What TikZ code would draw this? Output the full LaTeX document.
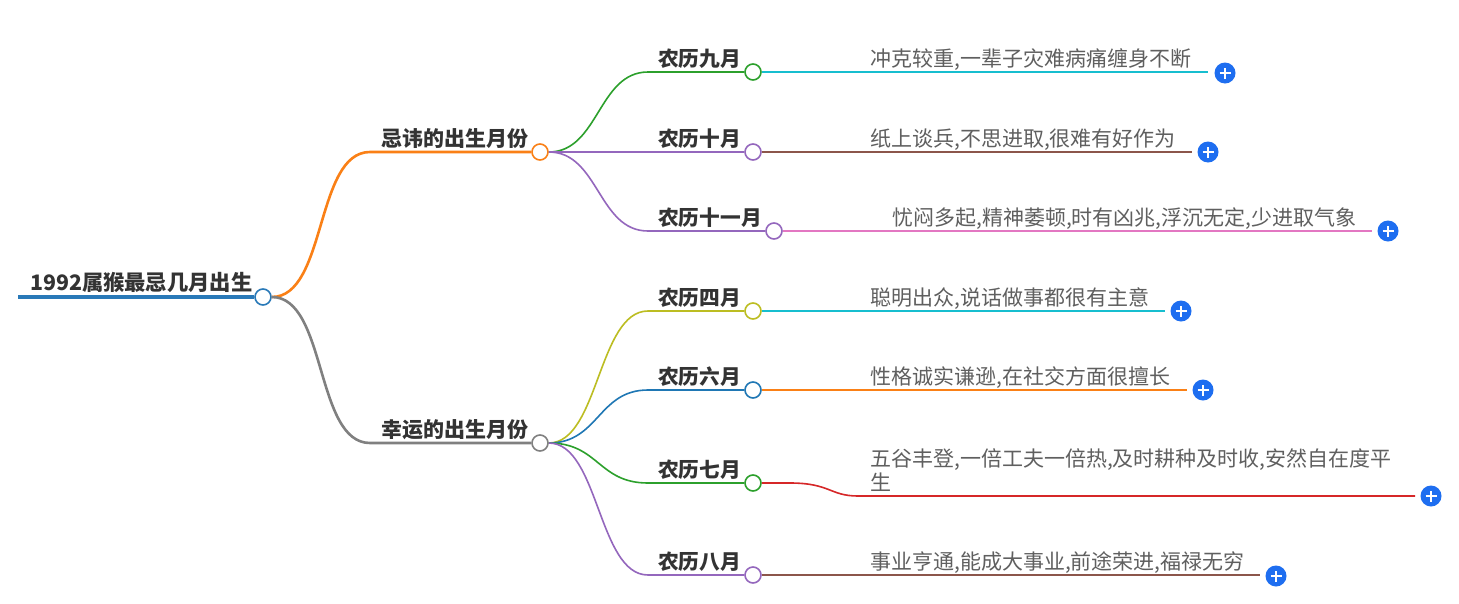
\documentclass[tikz,border=0pt]{standalone}
\usepackage{fontspec}
\setmainfont{Noto Sans CJK SC}
\definecolor{rootblue}{RGB}{41,121,184}
\definecolor{corange}{RGB}{250,128,22}
\definecolor{cgray}{RGB}{128,128,128}
\definecolor{cgreen}{RGB}{44,160,44}
\definecolor{cpurple}{RGB}{148,103,189}
\definecolor{cteal}{RGB}{23,190,207}
\definecolor{cbrown}{RGB}{140,86,75}
\definecolor{cpink}{RGB}{227,119,194}
\definecolor{colive}{RGB}{188,189,34}
\definecolor{cblue}{RGB}{31,119,180}
\definecolor{cred}{RGB}{214,39,40}
\definecolor{plusblue}{RGB}{30,110,240}
\definecolor{tdark}{RGB}{51,51,51}
\definecolor{tlight}{RGB}{95,95,95}
\begin{document}
\begin{tikzpicture}[x=1pt,y=-1pt,
  dot/.style={circle,draw=#1,fill=white,line width=1.6pt,minimum size=16pt,inner sep=0pt},
  plusdot/.style={circle,fill=plusblue,minimum size=21pt,inner sep=0pt,
    path picture={\draw[white,line width=1.8pt]
      ([xshift=-5.5pt]path picture bounding box.center) -- ([xshift=5.5pt]path picture bounding box.center)
      ([yshift=-5.5pt]path picture bounding box.center) -- ([yshift=5.5pt]path picture bounding box.center);}},
  rootlbl/.style={anchor=base west,inner sep=0pt,text=tdark,font=\bfseries\fontsize{21.3}{21}\selectfont},
  lbl/.style={anchor=base west,inner sep=0pt,text=tdark,font=\bfseries\fontsize{20.7}{20}\selectfont},
  lbla/.style={anchor=base west,inner sep=0pt,text=tdark,font=\bfseries\fontsize{21}{21}\selectfont},
  leaf/.style={anchor=base west,inner sep=0pt,text=tlight,align=left,font=\fontsize{21}{24}\selectfont},
  l1/.style={line width=2.6pt},
  l2/.style={line width=1.6pt},
  l3/.style={line width=1.6pt},
]
\useasboundingbox[fill=white] (0,0) rectangle (1459,603);

% root
\coordinate (r0) at (18,297);
\node[dot=rootblue] (rc) at (263,297) {};
\draw[rootblue,line width=4.5pt] (r0) -- (rc.west);
\node[rootlbl] (rt) at (30,290) {1992属猴最忌几月出生};

% level 1
\coordinate (as) at (370,152);
\coordinate (bs) at (370,443);
\node[dot=corange] (ac) at (540,152) {};
\node[dot=cgray] (bc) at (540,443) {};
\node[lbla] (at) at (381,146) {忌讳的出生月份};
\node[lbla] (bt) at (381,437) {幸运的出生月份};
\draw[corange,l1] (rc.east) .. controls +(55,0) and +(-55,0) .. (as) -- (ac.west);
\draw[cgray,l1] (rc.east) .. controls +(55,0) and +(-55,0) .. (bs) -- (bc.west);

% level 2
\node[dot=cgreen] (c9) at (753,72) {};
\node[dot=cpurple] (c10) at (753,152) {};
\node[dot=cpurple] (c11) at (774,231) {};
\node[dot=colive] (c4) at (753,311) {};
\node[dot=cblue] (c6) at (753,390) {};
\node[dot=cgreen] (c7) at (753,483) {};
\node[dot=cpurple] (c8) at (753,575) {};
\coordinate (s9) at (648,72);
\coordinate (s11) at (648,231);
\coordinate (s4) at (648,311);
\coordinate (s6) at (648,390);
\coordinate (s7) at (648,483);
\coordinate (s8) at (648,575);
\node[lbl] (t9) at (658,66) {农历九月};
\node[lbl] (t10) at (658,146) {农历十月};
\node[lbl] (t11) at (658,225) {农历十一月};
\node[lbl] (t4) at (658,305) {农历四月};
\node[lbl] (t6) at (658,384) {农历六月};
\node[lbl] (t7) at (658,477) {农历七月};
\node[lbl] (t8) at (658,569) {农历八月};
\draw[cgreen,l2] (ac.east) .. controls +(50,0) and +(-50,0) .. (s9) -- (c9.west);
\draw[cpurple,l2] (ac.east) -- (c10.west);
\draw[cpurple,l2] (ac.east) .. controls +(50,0) and +(-50,0) .. (s11) -- (c11.west);
\draw[colive,l2] (bc.east) .. controls +(50,0) and +(-50,0) .. (s4) -- (c4.west);
\draw[cblue,l2] (bc.east) .. controls +(50,0) and +(-50,0) .. (s6) -- (c6.west);
\draw[cgreen,l2] (bc.east) .. controls +(50,0) and +(-50,0) .. (s7) -- (c7.west);
\draw[cpurple,l2] (bc.east) .. controls +(50,0) and +(-50,0) .. (s8) -- (c8.west);

% level 3
\node[plusdot] (p9) at (1225,73) {};
\node[plusdot] (p10) at (1208,152) {};
\node[plusdot] (p11) at (1388,231) {};
\node[plusdot] (p4) at (1181,311) {};
\node[plusdot] (p6) at (1203,390) {};
\node[plusdot] (p7) at (1431,496) {};
\node[plusdot] (p8) at (1276,576) {};
\coordinate (e9) at (1208,72);
\coordinate (e10) at (1192,152);
\coordinate (e11) at (1372,231);
\coordinate (e4) at (1165,311);
\coordinate (e6) at (1187,390);
\coordinate (e7) at (1415,496);
\coordinate (e8) at (1260,575);
\coordinate (m7) at (858,496);
\node[leaf] (x9) at (870,66) {冲克较重,一辈子灾难病痛缠身不断};
\node[leaf] (x10) at (870,146) {纸上谈兵,不思进取,很难有好作为};
\node[leaf] (x11) at (892,225) {忧闷多起,精神萎顿,时有凶兆,浮沉无定,少进取气象};
\node[leaf] (x4) at (870,305) {聪明出众,说话做事都很有主意};
\node[leaf] (x6) at (870,384) {性格诚实谦逊,在社交方面很擅长};
\node[leaf] (x7) at (870,490) {五谷丰登,一倍工夫一倍热,及时耕种及时收,安然自在度平\\生};
\node[leaf] (x8) at (870,569) {事业亨通,能成大事业,前途荣进,福禄无穷};
\draw[cteal,l3] (c9.east) -- (e9);
\draw[cbrown,l3] (c10.east) -- (e10);
\draw[cpink,l3] (c11.east) -- (e11);
\draw[cteal,l3] (c4.east) -- (e4);
\draw[corange,l3] (c6.east) -- (e6);
\draw[cred,l3] (c7.east) -- (790,483) .. controls (830,483) and (830,496) .. (m7) -- (e7);
\draw[cbrown,l3] (c8.east) -- (e8);
\end{tikzpicture}
\end{document}
